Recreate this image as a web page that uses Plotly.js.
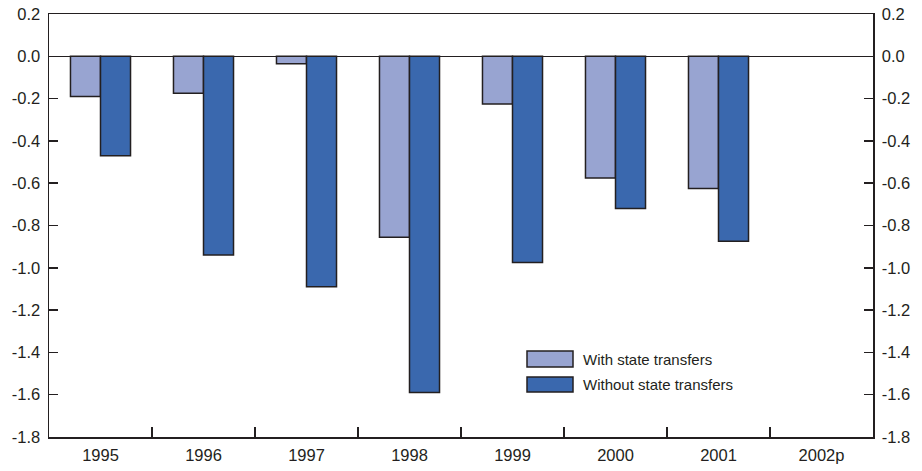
<!DOCTYPE html>
<html>
<head>
<meta charset="utf-8">
<script src="https://cdn.plot.ly/plotly-3.0.1.min.js"></script>
<style>html,body{margin:0;padding:0;background:#fff}#chart{width:922px;height:471px}</style>
</head>
<body>
<div id="chart"></div>
<script>
const years = ["1995","1996","1997","1998","1999","2000","2001","2002p"];
const withTransfers = [-0.19, -0.175, -0.035, -0.855, -0.225, -0.575, -0.625, null];
const withoutTransfers = [-0.47, -0.94, -1.09, -1.59, -0.975, -0.72, -0.875, null];
const seriesNames = ["With state transfers", "Without state transfers"];
const yTicks = [0.2, 0.0, -0.2, -0.4, -0.6, -0.8, -1.0, -1.2, -1.4, -1.6, -1.8];

const lightColor = "#98a4d1";
const darkColor = "#3a68ae";
const ink = "#231f20";
const fam = "Liberation Sans, Arial, sans-serif";

const traces = [
  {type:"bar", x:years, y:withTransfers, name:seriesNames[0],
   marker:{color:lightColor, line:{color:ink, width:1.5}}, showlegend:false, hoverinfo:"x+y"},
  {type:"bar", x:years, y:withoutTransfers, name:seriesNames[1],
   marker:{color:darkColor, line:{color:ink, width:1.5}}, showlegend:false, hoverinfo:"x+y"},
  {type:"scatter", mode:"markers", x:[years[0]], y:[0], yaxis:"y2",
   marker:{opacity:0}, showlegend:false, hoverinfo:"skip"}
];

const yCommon = {
  range:[-1.8, 0.2], tickvals:yTicks, ticktext:yTicks.map(v=>v.toFixed(1)),
  showgrid:false, showline:true, linecolor:ink, linewidth:1.5,
  ticks:"inside", ticklen:9, tickwidth:1.5, tickcolor:ink,
  fixedrange:true
};

const legendX0 = 527, legendX1 = 573;
const rows = [[351, 367], [377, 392]];
const W = 922, H = 471, mL = 49, mR = 49, mT = 14, mB = 34;
const pw = W - mL - mR, ph = H - mT - mB;
const px = x => (x - mL) / pw;
const py = y => 1 - (y - mT) / ph;

const shapes = [];
const annotations = [];
[lightColor, darkColor].forEach((c, i) => {
  shapes.push({type:"rect", xref:"paper", yref:"paper",
    x0:px(legendX0), x1:px(legendX1), y0:py(rows[i][1]), y1:py(rows[i][0]),
    fillcolor:c, line:{color:ink, width:1.5}});
  annotations.push({xref:"paper", yref:"paper", x:px(581), y:py((rows[i][0]+rows[i][1])/2),
    xanchor:"left", yanchor:"middle", text:seriesNames[i], showarrow:false,
    font:{size:15, color:ink, family:fam}});
});

const layout = {
  width:W, height:H,
  margin:{l:mL, r:mR, t:mT, b:mB, pad:0},
  paper_bgcolor:"#fff", plot_bgcolor:"#fff",
  font:{family:fam, size:16.5, color:ink},
  barmode:"group", bargap:0.417, bargroupgap:0,
  showlegend:false,
  xaxis:{type:"category", categoryorder:"array", categoryarray:years,
    showline:true, mirror:true, linecolor:ink, linewidth:1.5,
    ticks:"inside", tickson:"boundaries", ticklen:10, tickwidth:1.5, tickcolor:ink,
    showgrid:false, zeroline:false, fixedrange:true, ticklabelstandoff:3},
  yaxis:Object.assign({}, yCommon, {side:"left", zeroline:true, zerolinecolor:ink, zerolinewidth:1.5, ticklabelstandoff:4}),
  yaxis2:Object.assign({}, yCommon, {side:"right", overlaying:"y", anchor:"x", zeroline:false, ticklabelstandoff:4}),
  shapes:shapes,
  annotations:annotations
};

Plotly.newPlot("chart", traces, layout, {displayModeBar:false, staticPlot:true});
</script>
</body>
</html>
